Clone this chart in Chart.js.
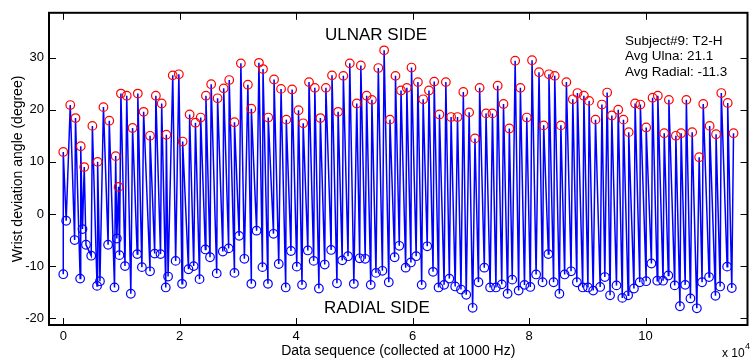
<!DOCTYPE html>
<html>
<head>
<meta charset="utf-8">
<script src="https://cdn.jsdelivr.net/npm/chart.js@4"></script>
<style>
  html, body { margin: 0; padding: 0; background: #fff; }
  #wrap { width: 753px; height: 362px; }
</style>
</head>
<body>
<div id="wrap"><canvas id="wristChart" width="753" height="362"></canvas></div>
<script>
// sample index in units of 10^4, wrist angle in degrees
const peakX = [0.00, 0.12, 0.21, 0.30, 0.36, 0.50, 0.59, 0.69, 0.79, 0.90, 0.95, 0.99, 1.09, 1.19, 1.28, 1.38,
    1.49, 1.59, 1.69, 1.77, 1.88, 1.985, 2.05, 2.17, 2.27, 2.36, 2.45, 2.54, 2.65, 2.755, 2.85, 2.94,
    3.05, 3.17, 3.23, 3.36, 3.43, 3.52, 3.62, 3.74, 3.83, 3.93, 4.04, 4.12, 4.22, 4.32, 4.415,
    4.51, 4.615, 4.72, 4.81, 4.92, 5.04, 5.11, 5.21, 5.30, 5.41, 5.51, 5.61, 5.705, 5.80, 5.90, 5.98,
    6.09, 6.18, 6.28, 6.37, 6.46, 6.57, 6.66, 6.77, 6.87, 6.97, 7.07, 7.15, 7.26, 7.37, 7.46,
    7.56, 7.66, 7.76, 7.85, 7.96, 8.05, 8.17, 8.25, 8.34, 8.44, 8.545, 8.64, 8.75, 8.83, 8.94, 9.03,
    9.14, 9.25, 9.34, 9.42, 9.53, 9.62, 9.71, 9.82, 9.91, 10.01, 10.12, 10.21, 10.32, 10.40, 10.52, 10.61,
    10.70, 10.80, 10.92, 10.99, 11.10, 11.21, 11.30, 11.41, 11.51];
const peakY = [11.9, 20.9, 18.4, 13.0, 9.0, 16.9, 10.0, 20.5, 17.9, 11.1, 5.2, 23.1, 22.7, 16.5, 23.1, 19.6,
    15.0, 22.7, 21.2, 15.2, 26.6, 26.8, 13.9, 19.1, 17.5, 18.5, 22.7, 24.9, 22.2, 24.1, 25.7, 17.6,
    28.9, 24.8, 20.2, 29.0, 27.8, 18.5, 25.8, 24.0, 18.1, 23.9, 19.9, 17.4, 25.3, 24.2, 18.4,
    24.2, 26.6, 19.6, 26.5, 28.9, 21.2, 28.5, 22.7, 21.9, 28.0, 31.4, 18.1, 26.5, 23.7, 24.2, 28.1,
    25.3, 22.0, 23.7, 25.4, 19.1, 25.3, 18.6, 18.6, 23.4, 19.5, 14.5, 24.2, 19.3, 19.3, 24.6,
    21.1, 16.4, 29.4, 24.2, 18.5, 29.5, 27.2, 17.0, 26.8, 26.5, 17.0, 25.3, 22.0, 23.2, 22.7, 21.7,
    18.1, 21.0, 23.3, 18.9, 20.0, 18.1, 15.7, 21.2, 21.0, 16.6, 22.3, 22.7, 15.5, 21.9, 15.0, 15.5,
    21.9, 15.7, 10.9, 21.1, 16.9, 15.3, 23.2, 21.3, 15.5];

const troughX = [0.00, 0.05, 0.195, 0.29, 0.33, 0.39, 0.48, 0.58, 0.63, 0.77, 0.88, 0.92, 0.965, 1.06, 1.16, 1.27, 1.35,
    1.49, 1.57, 1.67, 1.76, 1.80, 1.93, 2.04, 2.15, 2.24, 2.34, 2.44, 2.52, 2.635, 2.74, 2.84, 2.94,
    3.02, 3.11, 3.23, 3.32, 3.42, 3.515, 3.61, 3.70, 3.82, 3.91, 4.01, 4.10, 4.20, 4.30, 4.39,
    4.49, 4.60, 4.70, 4.79, 4.89, 4.99, 5.09, 5.185, 5.28, 5.37, 5.48, 5.59, 5.69, 5.77, 5.88, 5.97,
    6.06, 6.155, 6.25, 6.35, 6.445, 6.54, 6.63, 6.73, 6.83, 6.92, 7.03, 7.13, 7.23, 7.33, 7.43, 7.53,
    7.63, 7.71, 7.82, 7.92, 8.02, 8.12, 8.23, 8.33, 8.42, 8.52, 8.61, 8.72, 8.82, 8.92, 9.01,
    9.10, 9.22, 9.30, 9.39, 9.50, 9.60, 9.70, 9.80, 9.90, 10.01, 10.10, 10.20, 10.30, 10.39, 10.50, 10.59,
    10.68, 10.77, 10.88, 10.97, 11.09, 11.20, 11.28, 11.40, 11.48];
const troughY = [-11.55, -1.3, -5.0, -12.4, -2.9, -5.9, -8.0, -13.8, -12.9, -5.9, -14.1, -4.7, -7.9, -10.0, -15.3, -7.7, -10.2,
    -11.0, -7.6, -7.7, -14.1, -12.0, -9.0, -13.4, -10.6, -10.0, -12.5, -6.8, -8.3, -11.4, -7.2, -6.6, -11.3,
    -4.2, -8.6, -13.4, -3.2, -10.2, -13.4, -3.8, -9.6, -14.1, -7.1, -10.1, -13.6, -7.0, -9.0, -14.3,
    -9.7, -6.9, -13.3, -8.9, -8.1, -13.4, -8.5, -8.6, -13.6, -11.3, -10.9, -13.1, -8.3, -6.1, -10.3, -9.3,
    -8.1, -13.6, -6.2, -11.1, -14.1, -13.6, -12.4, -13.9, -14.5, -15.5, -18.0, -13.1, -10.3, -14.1, -14.1, -13.5,
    -15.3, -12.6, -14.7, -13.6, -14.0, -11.6, -13.1, -7.7, -13.1, -15.3, -11.6, -11.0, -13.1, -14.1, -14.1,
    -14.7, -14.0, -12.1, -15.6, -13.7, -16.1, -15.6, -14.3, -13.1, -12.9, -9.5, -12.8, -12.8, -11.8, -13.7, -17.7,
    -13.6, -16.2, -18.1, -13.1, -12.1, -15.7, -13.9, -10.1, -14.2];

const xTicks = [0, 2, 4, 6, 8, 10];
const yTicks = [-20, -10, 0, 10, 20, 30];

const peaks = peakX.map((x, i) => ({ x: x, y: peakY[i], k: 1 }));
const troughs = troughX.map((x, i) => ({ x: x, y: troughY[i], k: 0 }));
const trace = peaks.concat(troughs).sort((a, b) => (a.x - b.x) || (a.k - b.k));

const FONT = 'Liberation Sans, Arial, Helvetica, sans-serif';

// matlab-ish box with inward ticks and the free text
const boxPlugin = {
    id: 'box',
    afterDraw(chart) {
        const ctx = chart.ctx;
        const a = chart.chartArea;
        const xs = chart.scales.x, ys = chart.scales.y;
        ctx.save();
        ctx.strokeStyle = '#000';
        ctx.lineWidth = 1;
        ctx.beginPath();
        xTicks.forEach(v => {
            const px = Math.round(xs.getPixelForValue(v)) + 0.5;
            ctx.moveTo(px, a.bottom); ctx.lineTo(px, a.bottom - 7);
            ctx.moveTo(px, a.top); ctx.lineTo(px, a.top + 7);
        });
        yTicks.forEach(v => {
            const py = Math.round(ys.getPixelForValue(v)) + 0.5;
            ctx.moveTo(a.left, py); ctx.lineTo(a.left + 7, py);
            ctx.moveTo(a.right, py); ctx.lineTo(a.right - 7, py);
        });
        ctx.stroke();
        ctx.lineWidth = 2;
        ctx.strokeRect(a.left, a.top, a.right - a.left, a.bottom - a.top);

        ctx.fillStyle = '#000';
        ctx.textBaseline = 'middle';
        ctx.textAlign = 'center';
        ctx.font = '17px ' + FONT;
        ctx.fillText('ULNAR SIDE', 376, 35);
        ctx.fillText('RADIAL SIDE', 377, 308);

        ctx.textAlign = 'left';
        ctx.font = '13.5px ' + FONT;
        ctx.fillText('Subject#9: T2-H', 625, 41);
        ctx.fillText('Avg Ulna: 21.1', 625, 56);
        ctx.fillText('Avg Radial: -11.3', 625, 72);

        ctx.font = '12px ' + FONT;
        ctx.fillText('x 10', 722, 354);
        ctx.font = '9px ' + FONT;
        ctx.fillText('4', 745, 347);
        ctx.restore();
    }
};

const ctx = document.getElementById('wristChart').getContext('2d');
const wristChart = new Chart(ctx, {
    type: 'scatter',
    data: {
        datasets: [{
            label: 'signal',
            data: trace,
            showLine: true,
            borderColor: 'rgb(0, 0, 255)',
            borderWidth: 1.5,
            pointRadius: 0,
            order: 3
        }, {
            label: 'ulnar peaks',
            data: peaks,
            showLine: false,
            pointStyle: 'circle',
            pointRadius: 4.3,
            pointBorderWidth: 1.2,
            pointBorderColor: 'rgb(255, 0, 0)',
            pointBackgroundColor: 'rgba(0,0,0,0)',
            order: 1
        }, {
            label: 'radial peaks',
            data: troughs,
            showLine: false,
            pointStyle: 'circle',
            pointRadius: 4.3,
            pointBorderWidth: 1.2,
            pointBorderColor: 'rgb(0, 0, 255)',
            pointBackgroundColor: 'rgba(0,0,0,0)',
            order: 2
        }]
    },
    options: {
        responsive: false,
        animation: false,
        devicePixelRatio: 1,
        layout: { padding: { left: 0, right: 3, top: 9, bottom: 0 } },
        plugins: {
            legend: { display: false },
            tooltip: { enabled: false }
        },
        scales: {
            x: {
                type: 'linear',
                min: -0.245,
                max: 11.75,
                afterFit: s => { s.height = 37; },
                afterBuildTicks: s => { s.ticks = xTicks.map(v => ({ value: v })); },
                grid: { display: false, drawTicks: false },
                border: { display: false },
                ticks: {
                    padding: 4,
                    color: '#000',
                    font: { family: FONT, size: 13 },
                    callback: v => String(v)
                },
                title: {
                    display: true,
                    text: 'Data sequence (collected at 1000 Hz)',
                    color: '#000',
                    font: { family: FONT, size: 14 },
                    padding: { top: 0, bottom: 2 }
                }
            },
            y: {
                min: -21.3,
                max: 38.6,
                afterFit: s => { s.width = 49; },
                afterBuildTicks: s => { s.ticks = yTicks.map(v => ({ value: v })); },
                grid: { display: false, drawTicks: false },
                border: { display: false },
                ticks: {
                    padding: 5,
                    color: '#000',
                    font: { family: FONT, size: 13 },
                    callback: v => String(v)
                },
                title: {
                    display: true,
                    text: 'Wrist deviation angle (degree)',
                    color: '#000',
                    font: { family: FONT, size: 14 },
                    padding: { top: 10, bottom: 0 }
                }
            }
        }
    },
    plugins: [boxPlugin]
});
</script>
</body>
</html>
